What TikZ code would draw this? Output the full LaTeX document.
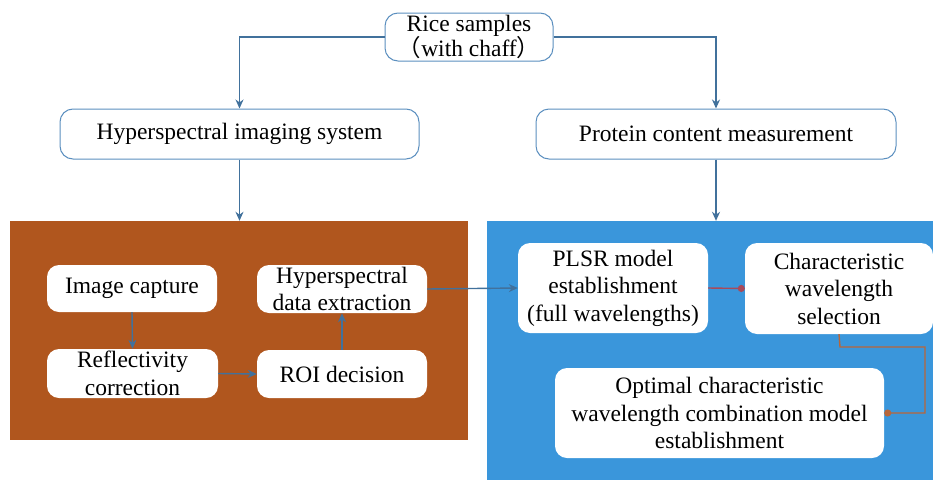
\documentclass[tikz,border=0pt]{standalone}
\usepackage{fontspec}
\setmainfont{Liberation Serif}
\newfontfamily\cjk{Noto Sans CJK SC}
\usetikzlibrary{arrows.meta}
\definecolor{panelbrown}{HTML}{B0561E}
\definecolor{panelblue}{HTML}{3A96DB}
\definecolor{linkblue}{HTML}{41719C}
\definecolor{boxedge}{HTML}{5B8FBF}
\definecolor{linkred}{HTML}{A84A5A}
\definecolor{linkorange}{HTML}{B8663A}
\tikzset{
  every node/.style={font=\fontsize{23.5}{27.5}\selectfont, align=center, inner sep=0pt},
  topbox/.style={draw=boxedge, line width=1pt, fill=white, rounded corners=13pt},
  innerbox/.style={fill=white, rounded corners=12pt},
  panel/.style={inner sep=0pt},
  link/.style={draw=linkblue, line width=1.4pt, -{Stealth[length=9pt,width=8pt]}},
  redlink/.style={draw=linkred, line width=1.4pt, -{Circle[length=7pt,width=7pt,open=false,fill=linkred]}},
  orangelink/.style={draw=linkorange, line width=1.4pt, -{Circle[length=7pt,width=7pt,open=false,fill=linkorange]}},
}
\begin{document}
\begin{tikzpicture}[x=1pt, y=-1pt]
\useasboundingbox (0,0) rectangle (933,479);
\fill[white] (0,0) rectangle (933,479);

% background panels
\node[panel, fill=panelbrown, minimum width=458pt, minimum height=219pt] (brown) at (239,330.5) {};
\node[panel, fill=panelblue, minimum width=460pt, minimum height=260pt] (blue) at (717,351) {};

% top row
\node[topbox, minimum width=168pt, minimum height=48pt] (rice) at (469,37)
  {Rice samples\\[-2pt]{\cjk （}with chaff{\cjk ）}};
\node[topbox, minimum width=359pt, minimum height=50pt] (hsys) at (239.5,134) {Hyperspectral imaging system};
\node[topbox, minimum width=360pt, minimum height=50pt] (prot) at (716,134) {Protein content measurement};

% left panel steps
\node[innerbox, minimum width=170pt, minimum height=47pt] (imgcap) at (132,288.5) {Image capture};
\node[innerbox, minimum width=171pt, minimum height=49pt] (refl) at (132.5,373.5) {Reflectivity\\correction};
\node[innerbox, minimum width=170pt, minimum height=48pt] (hde) at (342,289) {Hyperspectral\\data extraction};
\node[innerbox, minimum width=170pt, minimum height=48pt] (roi) at (342,374) {ROI decision};

% right panel steps
\node[innerbox, minimum width=190pt, minimum height=90pt] (plsr) at (613,288) {PLSR model\\establishment\\(full wavelengths)};
\node[innerbox, minimum width=188pt, minimum height=91pt] (cws) at (839,288.5) {Characteristic\\wavelength\\selection};
\node[innerbox, minimum width=329pt, minimum height=90pt] (opt) at (719.5,413) {Optimal characteristic\\wavelength combination model\\establishment};

% connectors
\draw[link] (rice.west) -| (hsys.north);
\draw[link] (rice.east) -| (prot.north);
\draw[link] (hsys.south) -- (hsys.south |- brown.north);
\draw[link] (prot.south) -- (prot.south |- blue.north);
\draw[link] (imgcap.south) -- (refl.north);
\draw[link] (refl.east) -- (roi.west);
\draw[link] (roi.north) -- (hde.south);
\draw[link] (hde.east) -- (plsr.west);
\draw[redlink] (plsr.east) -- (cws.west);
\coordinate (bendA) at (840,347);
\coordinate (bendB) at (925,347);
\coordinate (bendC) at (925,413);
\draw[orangelink] (cws.south) -- (bendA) -- (bendB) -- (bendC) -- (opt.east);
\end{tikzpicture}
\end{document}
